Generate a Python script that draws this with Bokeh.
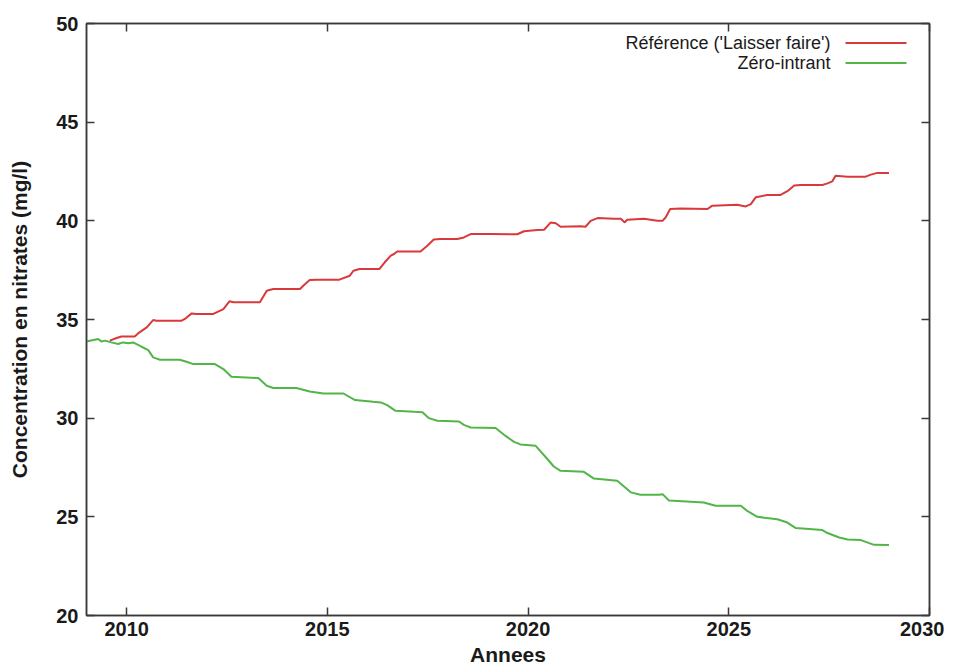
from bokeh.plotting import figure
from bokeh.models import LinearAxis, Range1d, FixedTicker, Label
from bokeh.embed import file_html
from bokeh.resources import INLINE

# ---- data ----
ref_years = [2009.58, 2009.75, 2009.87, 2010.20, 2010.32, 2010.50, 2010.66, 2010.74, 2011.37, 2011.45,
             2011.62, 2011.74, 2012.16, 2012.24, 2012.41, 2012.56, 2012.66, 2013.32, 2013.49, 2013.65,
             2014.32, 2014.40, 2014.56, 2014.73, 2015.30, 2015.56, 2015.65, 2015.80, 2016.30, 2016.43,
             2016.58, 2016.66, 2016.74, 2017.32, 2017.49, 2017.65, 2017.82, 2018.24, 2018.40, 2018.57,
             2019.07, 2019.73, 2019.90, 2020.23, 2020.40, 2020.56, 2020.69, 2020.81, 2021.31, 2021.43,
             2021.56, 2021.73, 2022.14, 2022.31, 2022.41, 2022.47, 2022.89, 2023.22, 2023.35, 2023.43,
             2023.54, 2023.80, 2024.47, 2024.59, 2025.21, 2025.42, 2025.55, 2025.67, 2025.96, 2026.29,
             2026.46, 2026.63, 2026.79, 2027.33, 2027.46, 2027.58, 2027.66, 2027.96, 2028.41, 2028.54,
             2028.70, 2028.99]
ref_values = [33.93, 34.06, 34.14, 34.14, 34.35, 34.60, 34.97, 34.94, 34.94, 35.03,
              35.31, 35.28, 35.28, 35.36, 35.53, 35.92, 35.87, 35.87, 36.46, 36.55,
              36.55, 36.71, 37.00, 37.02, 37.02, 37.22, 37.47, 37.56, 37.56, 37.90,
              38.24, 38.32, 38.45, 38.45, 38.74, 39.05, 39.08, 39.08, 39.16, 39.33,
              39.33, 39.32, 39.47, 39.54, 39.55, 39.91, 39.88, 39.70, 39.72, 39.70,
              40.00, 40.14, 40.11, 40.10, 39.92, 40.06, 40.11, 40.00, 40.00, 40.18,
              40.60, 40.62, 40.60, 40.77, 40.82, 40.73, 40.85, 41.19, 41.31, 41.31,
              41.50, 41.79, 41.82, 41.82, 41.90, 42.00, 42.28, 42.24, 42.24, 42.34,
              42.43, 42.43]

zero_years = [2009.00, 2009.29, 2009.37, 2009.46, 2009.62, 2009.79, 2009.91, 2010.04, 2010.16, 2010.37,
              2010.54, 2010.66, 2010.83, 2011.32, 2011.49, 2011.66, 2012.20, 2012.41, 2012.61, 2013.28,
              2013.49, 2013.65, 2014.23, 2014.56, 2014.90, 2015.40, 2015.69, 2016.14, 2016.33, 2016.49,
              2016.70, 2017.16, 2017.37, 2017.53, 2017.74, 2018.28, 2018.40, 2018.57, 2019.19, 2019.44,
              2019.65, 2019.81, 2020.19, 2020.48, 2020.64, 2020.81, 2021.39, 2021.64, 2022.22, 2022.56,
              2022.80, 2023.26, 2023.35, 2023.51, 2024.38, 2024.67, 2025.30, 2025.46, 2025.71, 2026.21,
              2026.46, 2026.67, 2027.33, 2027.46, 2027.75, 2027.96, 2028.29, 2028.62, 2028.99]
zero_values = [33.89, 34.01, 33.89, 33.93, 33.84, 33.76, 33.84, 33.80, 33.84, 33.62,
               33.45, 33.08, 32.96, 32.96, 32.86, 32.74, 32.74, 32.49, 32.10, 32.03,
               31.64, 31.53, 31.53, 31.35, 31.25, 31.25, 30.92, 30.83, 30.80, 30.66,
               30.37, 30.32, 30.30, 30.00, 29.87, 29.83, 29.66, 29.53, 29.50, 29.10,
               28.80, 28.67, 28.60, 27.93, 27.55, 27.33, 27.28, 26.94, 26.83, 26.24,
               26.12, 26.12, 26.15, 25.83, 25.73, 25.56, 25.56, 25.30, 25.00, 24.88,
               24.71, 24.43, 24.33, 24.18, 23.95, 23.85, 23.82, 23.58, 23.57]

x_ticks = [2010, 2015, 2020, 2025, 2030]
y_ticks = [20, 25, 30, 35, 40, 45, 50]
series_labels = ["Référence ('Laisser faire')", "Zéro-intrant"]
x_title = "Annees"
y_title = "Concentration en nitrates (mg/l)"

X0, X1 = 2009, 2030
Y0, Y1 = 20, 50

RED = "#d9393b"
GREEN = "#52b548"
AX = "#3a3a3a"
FONT = "Liberation Sans"

FRAME_W = 843
FRAME_H = 592

p = figure(width=944, height=668, output_backend="svg", toolbar_location=None,
           x_range=Range1d(X0, X1), y_range=Range1d(Y0, Y1),
           min_border_left=86, min_border_right=15, min_border_top=23, min_border_bottom=53,
           x_axis_label=x_title, y_axis_label=y_title)
p.grid.visible = False
p.outline_line_color = AX
p.outline_line_width = 1.5
p.background_fill_color = "white"
p.border_fill_color = "white"


def style_axis(ax, ticks, show_labels=True):
    ax.ticker = FixedTicker(ticks=ticks)
    ax.axis_line_color = AX
    ax.axis_line_width = 1.5
    ax.major_tick_line_color = AX
    ax.major_tick_line_width = 1.5
    ax.major_tick_in = 8
    ax.major_tick_out = 0
    ax.minor_tick_line_color = None
    ax.major_label_text_font = FONT
    ax.major_label_text_font_style = "bold"
    ax.major_label_text_font_size = "20px"
    ax.major_label_text_color = "#1a1a1a"
    ax.axis_label_text_font = FONT
    ax.axis_label_text_font_style = "bold"
    ax.axis_label_text_font_size = "21px"
    ax.axis_label_text_color = "#1a1a1a"
    if not show_labels:
        ax.major_label_text_font_size = "1px"
        ax.major_label_text_color = None
        ax.major_label_standoff = 0


style_axis(p.xaxis[0], x_ticks)
style_axis(p.yaxis[0], y_ticks)
p.xaxis[0].major_label_standoff = 6
p.xaxis[0].axis_label_standoff = 4
p.yaxis[0].major_label_standoff = 8
p.yaxis[0].axis_label_standoff = 22

top = LinearAxis()
style_axis(top, x_ticks, show_labels=False)
p.add_layout(top, "above")
right = LinearAxis()
style_axis(right, y_ticks, show_labels=False)
p.add_layout(right, "right")

p.line(ref_years, ref_values, line_color=RED, line_width=2)
p.line(zero_years, zero_values, line_color=GREEN, line_width=2)

yr_per_px = (X1 - X0) / FRAME_W
val_per_px = (Y1 - Y0) / FRAME_H

# legend (gnuplot style: text at left, line sample at right)
text_x = X1 - 99 * yr_per_px
seg_x0 = X1 - 84 * yr_per_px
seg_x1 = X1 - 23 * yr_per_px
row_y = [Y1 - 19.5 * val_per_px, Y1 - 39.5 * val_per_px]
for lab, yy in zip(series_labels, row_y):
    p.add_layout(Label(x=text_x, y=yy, text=lab, text_align="right", text_baseline="middle",
                       text_font=FONT, text_font_size="18px", text_color="#1a1a1a"))
p.segment(x0=[seg_x0, seg_x0], y0=row_y, x1=[seg_x1, seg_x1], y1=row_y,
          line_color=[RED, GREEN], line_width=2)

open("out.html", "w").write(file_html(p, INLINE))
